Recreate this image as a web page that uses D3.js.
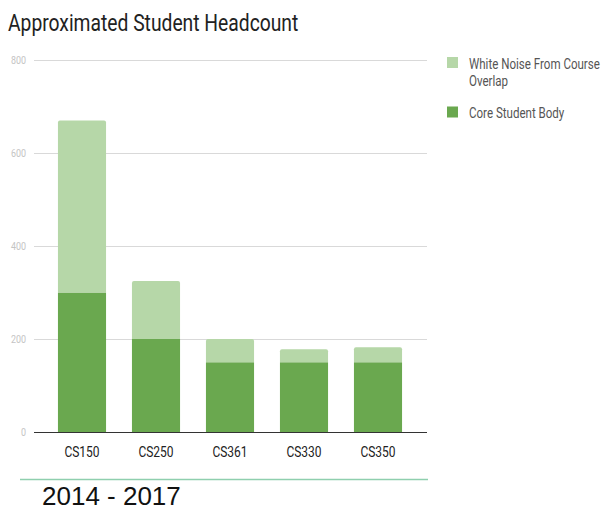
<!DOCTYPE html>
<html><head><meta charset="utf-8">
<script src="https://cdn.jsdelivr.net/npm/d3@7"></script>
<style>body{margin:0;background:#fff;}svg{display:block;}</style>
</head><body>
<svg id="c" width="613" height="512"></svg>
<script>
const categories = ["CS150","CS250","CS361","CS330","CS350"];
const coreValues = [300,200,150,150,150];
const noiseValues = [370,125,50,28,32];
const seriesNames = ["White Noise From Course Overlap","Core Student Body"];
const legendLines = [["White Noise From Course","Overlap"],["Core Student Body"]];
const yTicks = [0,200,400,600,800];

const svg = d3.select("#c");
const x = d3.scaleBand().domain(categories).range([45,415]).paddingInner(0.35).paddingOuter(0.175);
const y = d3.scaleLinear().domain([0,800]).range([432,60]);

function condense(sel, f){
  sel.each(function(){
    const len = this.getComputedTextLength();
    d3.select(this).attr("textLength", len*f).attr("lengthAdjust","spacingAndGlyphs");
  });
}

const title = svg.append("text").attr("x",8).attr("y",31).attr("font-family","Roboto").attr("font-size",23.5)
  .attr("fill","#222").text("Approximated Student Headcount");
condense(title, 0.82);

// grid
const ya = svg.append("g").attr("transform","translate(34,0)")
  .call(d3.axisLeft(y).tickValues(yTicks).tickSize(-393).tickFormat(d3.format("d")));
ya.select(".domain").remove();
ya.selectAll(".tick line").attr("stroke","#d9d9d9");
ya.selectAll(".tick text").attr("x",-8).attr("font-family","Roboto").attr("font-size",10.5).attr("fill","#c4c4c4");
condense(ya.selectAll(".tick text"), 0.85);

const data = categories.map((c,i)=>({c,core:coreValues[i],noise:noiseValues[i]}));
function topRounded(x0,y0,w,h,r){
  return `M${x0},${y0+h}V${y0+r}Q${x0},${y0} ${x0+r},${y0}H${x0+w-r}Q${x0+w},${y0} ${x0+w},${y0+r}V${y0+h}Z`;
}
const g = svg.append("g");
g.selectAll(".core").data(data).join("rect").attr("class","core")
  .attr("x",d=>x(d.c)).attr("width",x.bandwidth())
  .attr("y",d=>y(d.core)).attr("height",d=>y(0)-y(d.core)).attr("fill","#6aa84f");
g.selectAll(".noise").data(data).join("path").attr("class","noise")
  .attr("d",d=>topRounded(x(d.c),y(d.core+d.noise),x.bandwidth(),y(d.core)-y(d.core+d.noise),2))
  .attr("fill","#b6d7a8");

// x axis
const xa = svg.append("g").attr("transform","translate(0,432)")
  .call(d3.axisBottom(x).tickSize(0).tickPadding(0));
xa.select(".domain").attr("d","M34,0.5H427").attr("stroke","#333");
xa.selectAll(".tick text").attr("dy",null).attr("y",24.5).attr("font-family","Roboto").attr("font-size",15).attr("fill","#222");
condense(xa.selectAll(".tick text"), 0.8);

// legend
const colors = ["#b6d7a8","#6aa84f"];
const legY = [57, 106.5];
const leg = svg.append("g");
legendLines.forEach((lines,i)=>{
  leg.append("rect").attr("x",447).attr("y",legY[i]).attr("width",11).attr("height",11).attr("fill",colors[i]);
  lines.forEach((ln,j)=>{
    const t = leg.append("text").attr("x",469).attr("y",legY[i]+11.5+j*17).attr("font-family","Roboto")
      .attr("font-size",14).attr("fill","#555").text(ln);
    condense(t, 0.825);
  });
});

// footer
svg.append("line").attr("x1",20).attr("x2",428).attr("y1",479.5).attr("y2",479.5).attr("stroke","#8fcfae").attr("stroke-width",1.5);
svg.append("text").attr("x",42).attr("y",505).attr("font-family","Liberation Sans").attr("font-size",26).attr("fill","#111").text("2014 - 2017");
</script>
</body></html>
